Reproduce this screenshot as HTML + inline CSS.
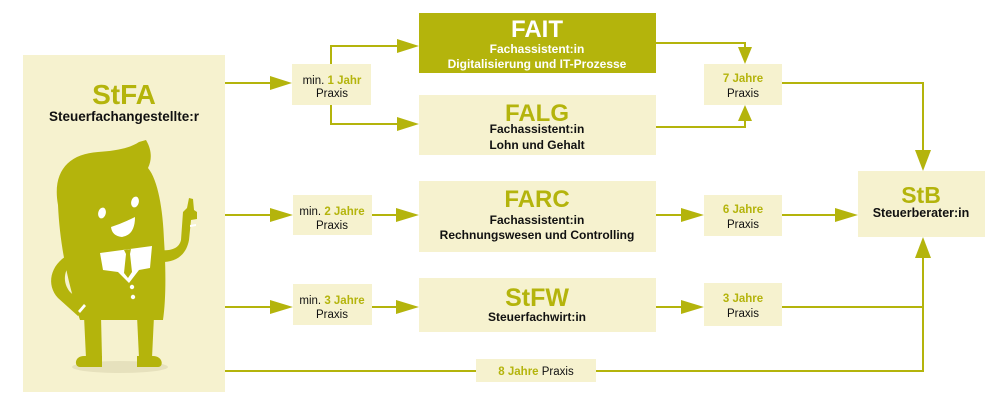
<!DOCTYPE html>
<html><head><meta charset="utf-8"><style>
html,body{margin:0;padding:0;background:#fff;}
body{width:1000px;height:412px;overflow:hidden;}
svg{display:block;}
text{font-family:"Liberation Sans",Arial,sans-serif;}
.b{font-weight:bold;}
</style></head><body>
<svg width="1000" height="412" viewBox="0 0 1000 412" xmlns="http://www.w3.org/2000/svg">
<!-- boxes -->
<g fill="#f6f2cf">
<rect x="23" y="55" width="202" height="337"/>
<rect x="292" y="64" width="79" height="41"/>
<rect x="419" y="95" width="237" height="60"/>
<rect x="704" y="64" width="78" height="41"/>
<rect x="293" y="195" width="79" height="40"/>
<rect x="419" y="181" width="237" height="71"/>
<rect x="704" y="195" width="78" height="41"/>
<rect x="858" y="171" width="127" height="66"/>
<rect x="293" y="284" width="79" height="41"/>
<rect x="419" y="278" width="237" height="54"/>
<rect x="704" y="283" width="78" height="43"/>
<rect x="476" y="359" width="120" height="23"/>
</g>
<rect x="419" y="13" width="237" height="60" fill="#b4b40c"/>

<!-- connectors -->
<g stroke="#b4b40c" stroke-width="2" fill="none">
<line x1="225" y1="83" x2="272" y2="83"/>
<polyline points="331,64 331,46 398,46"/>
<polyline points="331,105 331,124 398,124"/>
<polyline points="656,43 745,43 745,48"/>
<polyline points="656,127 745,127 745,120"/>
<polyline points="782,83 923,83 923,152"/>
<line x1="225" y1="215" x2="272" y2="215"/>
<line x1="372" y1="215" x2="398" y2="215"/>
<line x1="656" y1="215" x2="683" y2="215"/>
<line x1="782" y1="215" x2="837" y2="215"/>
<line x1="225" y1="307" x2="272" y2="307"/>
<line x1="372" y1="307" x2="398" y2="307"/>
<line x1="656" y1="307" x2="683" y2="307"/>
<line x1="782" y1="307" x2="923" y2="307"/>
<line x1="225" y1="371" x2="476" y2="371"/>
<polyline points="596,371 923,371 923,255"/>
</g>
<g fill="#b4b40c">
<polygon points="270,76 292,83 270,90"/>
<polygon points="397,39 419,46 397,53"/>
<polygon points="397,117 419,124 397,131"/>
<polygon points="738,47 752,47 745,64"/>
<polygon points="738,121 752,121 745,105"/>
<polygon points="915,150 931,150 923,171"/>
<polygon points="270,208 293,215 270,222"/>
<polygon points="396,208 419,215 396,222"/>
<polygon points="681,208 704,215 681,222"/>
<polygon points="835,208 858,215 835,222"/>
<polygon points="270,300 293,307 270,314"/>
<polygon points="396,300 419,307 396,314"/>
<polygon points="681,300 704,307 681,314"/>
<polygon points="915,258 931,258 923,237"/>
</g>

<!-- character -->
<ellipse cx="120" cy="367" rx="48" ry="6" fill="#e6e1bd"/>
<g fill="#b4b40c">
<path d="M58 205 C52 172,68 154,98 152 C116 151,130 148,139 142 L146 140 C152 150,152 160,148 168 C158 180,163 210,164 240 C166 270,166 300,163 320 L80 320 C70 290,60 250,58 205 Z"/>
<path d="M84 316 L101 316 L102 358 L86 358 Z"/>
<path d="M137 316 L154 316 L152 358 L139 358 Z"/>
<path d="M102 356 L102 367 L80 367 C74 367,74 356,84 356 Z"/>
<path d="M137 356 L137 367 L158 367 C164 367,163 356,153 356 Z"/>
<path d="M68 255 C50 265,46 285,58 298 L78 316 L86 306 L70 292 C62 282,64 270,72 262 Z"/>
<path d="M158 262 C175 263,186 256,189 240 L191 220 L197 219 L197 212 L194 210 L193 199 L189 198 L187 208 L183 212 L181 240 C179 249,170 251,160 250 Z"/>
</g>
<g fill="#fff">
<ellipse cx="102" cy="213" rx="3.8" ry="5.5" transform="rotate(15 102 213)"/>
<ellipse cx="135" cy="202" rx="3.8" ry="5.5" transform="rotate(15 135 202)"/>
<path d="M111 227 Q123 223 135 217 Q135 235 122 237 Q112 236 111 227 Z"/>
<path d="M100 253 L152 246 L150 268 L139 270 L129 283 L118 272 L103 270 Z"/>
<circle cx="132" cy="287" r="2.2"/>
<circle cx="133" cy="297" r="2.2"/>
<path d="M78 311 L84 304 L86 306 L80 313 Z"/>
<path d="M190 225 L196 224 L196 226 L190 227 Z"/>
</g>
<path d="M124 250 L131 249 L130 254 L132 272 L128 278 L124 273 L126 254 Z" fill="#b4b40c"/>

<!-- texts -->
<text x="124" y="104" text-anchor="middle" class="b" font-size="28" fill="#b4b40c">StFA</text>
<text x="124" y="121" text-anchor="middle" class="b" font-size="13.5" fill="#111">Steuerfachangestellte:r</text>

<text x="537" y="37" text-anchor="middle" class="b" font-size="24" fill="#fff">FAIT</text>
<text x="537" y="53" text-anchor="middle" class="b" font-size="12" fill="#fff">Fachassistent:in</text>
<text x="537" y="68" text-anchor="middle" class="b" font-size="12" fill="#fff">Digitalisierung und IT-Prozesse</text>

<text x="537" y="121" text-anchor="middle" class="b" font-size="24" fill="#b4b40c">FALG</text>
<text x="537" y="133" text-anchor="middle" class="b" font-size="12" fill="#111">Fachassistent:in</text>
<text x="537" y="149" text-anchor="middle" class="b" font-size="12" fill="#111">Lohn und Gehalt</text>

<text x="537" y="207" text-anchor="middle" class="b" font-size="24" fill="#b4b40c">FARC</text>
<text x="537" y="224" text-anchor="middle" class="b" font-size="12" fill="#111">Fachassistent:in</text>
<text x="537" y="239" text-anchor="middle" class="b" font-size="12" fill="#111">Rechnungswesen und Controlling</text>

<text x="537" y="306" text-anchor="middle" class="b" font-size="25" fill="#b4b40c">StFW</text>
<text x="537" y="321" text-anchor="middle" class="b" font-size="12" fill="#111">Steuerfachwirt:in</text>

<text x="921" y="203" text-anchor="middle" class="b" font-size="23" fill="#b4b40c">StB</text>
<text x="921" y="217" text-anchor="middle" class="b" font-size="12.5" fill="#111">Steuerberater:in</text>

<g font-size="11.5" text-anchor="middle">
<text x="332" y="84"><tspan fill="#111">min. </tspan><tspan class="b" fill="#b4b40c">1 Jahr</tspan></text>
<text x="332" y="97" fill="#111">Praxis</text>
<text x="332" y="215"><tspan fill="#111">min. </tspan><tspan class="b" fill="#b4b40c">2 Jahre</tspan></text>
<text x="332" y="229" fill="#111">Praxis</text>
<text x="332" y="304"><tspan fill="#111">min. </tspan><tspan class="b" fill="#b4b40c">3 Jahre</tspan></text>
<text x="332" y="318" fill="#111">Praxis</text>
<text x="743" y="82" class="b" fill="#b4b40c">7 Jahre</text>
<text x="743" y="97" fill="#111">Praxis</text>
<text x="743" y="213" class="b" fill="#b4b40c">6 Jahre</text>
<text x="743" y="228" fill="#111">Praxis</text>
<text x="743" y="302" class="b" fill="#b4b40c">3 Jahre</text>
<text x="743" y="317" fill="#111">Praxis</text>
<text x="536" y="375"><tspan class="b" fill="#b4b40c">8 Jahre</tspan><tspan fill="#111"> Praxis</tspan></text>
</g>
</svg>
</body></html>
